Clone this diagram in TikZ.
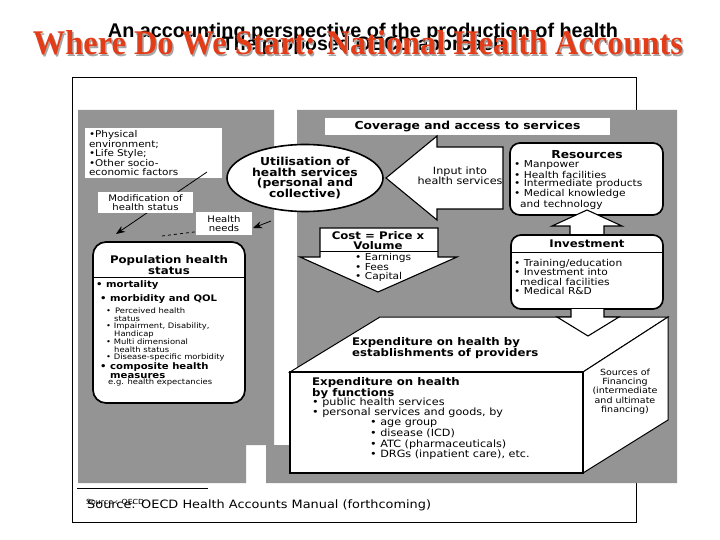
\documentclass[tikz,border=0pt]{standalone}
\usepackage{fontspec}
\usepackage{graphicx}
\setmainfont{DejaVu Sans}[FakeStretch=1.12]
\newfontfamily\titlefont{Liberation Serif}
\newfontfamily\subfont{Liberation Sans}
\usetikzlibrary{shapes.geometric,arrows.meta}
\definecolor{panelgray}{RGB}{148,148,148}
\definecolor{titlered}{RGB}{226,60,24}
\newcommand{\fs}[2]{\fontsize{#1}{#2}\selectfont}
\begin{document}
\begin{tikzpicture}[x=1pt,y=-1pt,
  wbox/.style={fill=white, draw=none, inner sep=0pt},
  rbox/.style={draw=black, line width=1.7pt, fill=white, rounded corners=10pt, inner sep=0pt},
  blk/.style={draw=black, line width=1.1pt, fill=white, line join=miter},
  txt/.style={inner sep=0pt, align=left, anchor=west},
  ctxt/.style={inner sep=0pt, align=center},
  thinarrow/.style={line width=0.8pt, -{Stealth[length=9pt,width=7pt]}}]
\useasboundingbox (0,0) rectangle (720,540);
\fill[white] (0,0) rectangle (720,540);

% titles
\node[inner sep=0, anchor=base] (sub1) at (363,38) {\resizebox{510pt}{!}{\subfont\bfseries An accounting perspective of the production of health}};
\node[inner sep=0, anchor=base] (sub2) at (363.5,51) {\resizebox{283pt}{!}{\subfont\bfseries The proposed OECD approach}};
\node[inner sep=0, anchor=base, text=gray!70] (titlesh) at (359.5,56.5) {\resizebox{650pt}{24pt}{\titlefont\bfseries Where Do We Start: National Health Accounts}};
\node[inner sep=0, anchor=base, text=titlered] (title) at (358,55) {\resizebox{650pt}{24pt}{\titlefont\bfseries Where Do We Start: National Health Accounts}};

% frame and panels
\draw[line width=1pt] (72,78) rectangle (636,522);
\fill[panelgray] (78,110) -- (274,110) -- (274,445) -- (246,445) -- (246,483) -- (78,483) -- cycle;
\fill[panelgray] (297,110) -- (677,110) -- (677,483) -- (266,483) -- (266,445) -- (297,445) -- cycle;
\draw[line width=0.6pt] (77,488) -- (208,488);

% left panel
\node[wbox, minimum width=137pt, minimum height=50pt, text width=131pt, align=left, font=\fs{9.3}{8.6}] (phys) at (153.5,153)
  {\hspace*{1pt}•Physical\\\hspace*{1pt}environment;\\\hspace*{1pt}•Life Style;\\\hspace*{1pt}•Other socio-\\\hspace*{1pt}economic factors};
\coordinate (a1s) at (207,172);
\coordinate (a1e) at (116,234);
\draw[thinarrow] (a1s) -- (a1e);
\node[wbox, minimum width=95pt, minimum height=21pt, align=center, font=\fs{9}{9}] (mod) at (145.5,202.5) {Modification of\\health status};
\coordinate (dashend) at (162,236);
\draw[dashed, line width=0.8pt] (dashend) -- (210,230);
\node[wbox, minimum width=56pt, minimum height=23pt, align=center, font=\fs{9}{9}] (needs) at (224,223.5) {Health\\needs};
\coordinate (ns) at (271,221);
\coordinate (ne) at (253,228);
\draw[thinarrow] (ns) -- (ne);

% population box
\node[rbox, rounded corners=13pt, minimum width=152pt, minimum height=161pt] (pop) at (169,322.5) {};
\draw[line width=1pt] (93,277) -- (245,277);
\node[ctxt, font=\bfseries\fs{10.5}{11}] (poph) at (169,265.5) {Population health\\status};
\node[txt, font=\bfseries\fs{9}{9}] (mort) at (96,285) {• mortality};
\node[txt, font=\bfseries\fs{9}{9}] (morb) at (100,299) {• morbidity and QOL};
\node[txt, font=\fs{7.5}{7.2}] (morbl) at (106,334.5) {• \,Perceived health\\\hspace*{8pt}status\\• Impairment, Disability,\\\hspace*{8pt}Handicap\\• Multi dimensional\\\hspace*{8pt}health status\\• Disease-specific morbidity};
\node[txt, font=\bfseries\fs{9}{9}] (comp) at (100,370.5) {• composite health\\\hspace*{10pt}measures};
\node[txt, font=\fs{7.5}{7.5}] (eg) at (108,382) {e.g. health expectancies};

% right panel
\node[wbox, minimum width=285pt, minimum height=17pt, font=\bfseries\fs{11}{11}] (cov) at (467.5,126.5) {Coverage and access to services};
\node[ellipse, draw=black, line width=1.6pt, fill=white, minimum width=156pt, minimum height=67pt, inner sep=0pt, align=center, font=\bfseries\fs{11}{10.8}] (util) at (305,178) {Utilisation of\\health services\\(personal and\\collective)};
\filldraw[blk] (503,147) -- (503,209) -- (437,209) -- (437,220) -- (386,178) -- (437,136) -- (437,147) -- cycle;
\node[ctxt, font=\fs{10}{10}] (inp) at (460,176) {Input into\\health services};

\node[rbox, minimum width=153pt, minimum height=72pt] (res) at (586.5,179) {};
\node[ctxt, font=\bfseries\fs{11}{11}] (resh) at (587,155) {Resources};
\node[txt, font=\fs{9.5}{8.5}] (resl) at (514,185) {• Manpower\\• Health facilities\\• Intermediate products\\• Medical knowledge\\\hspace*{6pt}and technology};

\filldraw[blk] (570,235) -- (570,226) -- (552,226) -- (587,210) -- (622,226) -- (604,226) -- (604,235);

\node[rbox, minimum width=152pt, minimum height=74pt] (inv) at (587,272) {};
\draw[line width=1pt] (511,252) -- (663,252);
\node[ctxt, font=\bfseries\fs{10.5}{11}] (invh) at (587,244) {Investment};
\node[txt, font=\fs{9.5}{9.3}] (invl) at (514,277) {• Training/education\\• Investment into\\\hspace*{6pt}medical facilities\\• Medical R\&D};

% cost arrow
\filldraw[blk] (320,228) -- (438,228) -- (438,257) -- (457,257) -- (378,292) -- (300,257) -- (320,257) -- cycle;
\draw[line width=1pt] (320,251) -- (438,251);
\node[ctxt, font=\bfseries\fs{10.5}{10}] (costh) at (378,240.5) {Cost = Price x\\Volume};
\node[txt, font=\fs{9.5}{8.5}] (costl) at (355,267.5) {• Earnings\\• Fees\\• Capital};

% cube
\filldraw[draw=black, line width=1pt, fill=white, line join=miter] (290,372) -- (380,317) -- (668,317) -- (583,372) -- cycle;
\filldraw[draw=black, line width=1pt, fill=white, line join=miter] (583,372) -- (668,317) -- (668,420) -- (583,473) -- cycle;
\filldraw[draw=black, line width=2pt, fill=white, line join=miter] (290,372) rectangle (583,473);
\filldraw[blk] (571,309) -- (571,317) -- (557,317) -- (588,336) -- (619,317) -- (604,317) -- (604,309);
\node[txt, font=\bfseries\fs{10.5}{10}] (topt) at (352,348) {Expenditure on health by\\establishments of providers};
\node[txt, font=\bfseries\fs{10.5}{10}] (frontt) at (312,388) {Expenditure on health\\by functions};
\node[txt, font=\fs{10}{10}] (frontl) at (312,408) {• public health services\\• personal services and goods, by};
\node[txt, font=\fs{10}{10.7}] (frontl2) at (370,440) {• age group\\• disease (ICD)\\• ATC (pharmaceuticals)\\• DRGs (inpatient care), etc.};
\node[ctxt, font=\fs{8.5}{9.3}] (sidet) at (625,391.5) {Sources of\\Financing\\(intermediate\\and ultimate\\financing)};

% footer
\node[txt, font=\fs{11.5}{12}] (src) at (87,505) {Source: OECD Health Accounts Manual (forthcoming)};
\node[txt, font=\fs{7}{7}] (src2) at (86,502) {Source : OECD};
\end{tikzpicture}
\end{document}
